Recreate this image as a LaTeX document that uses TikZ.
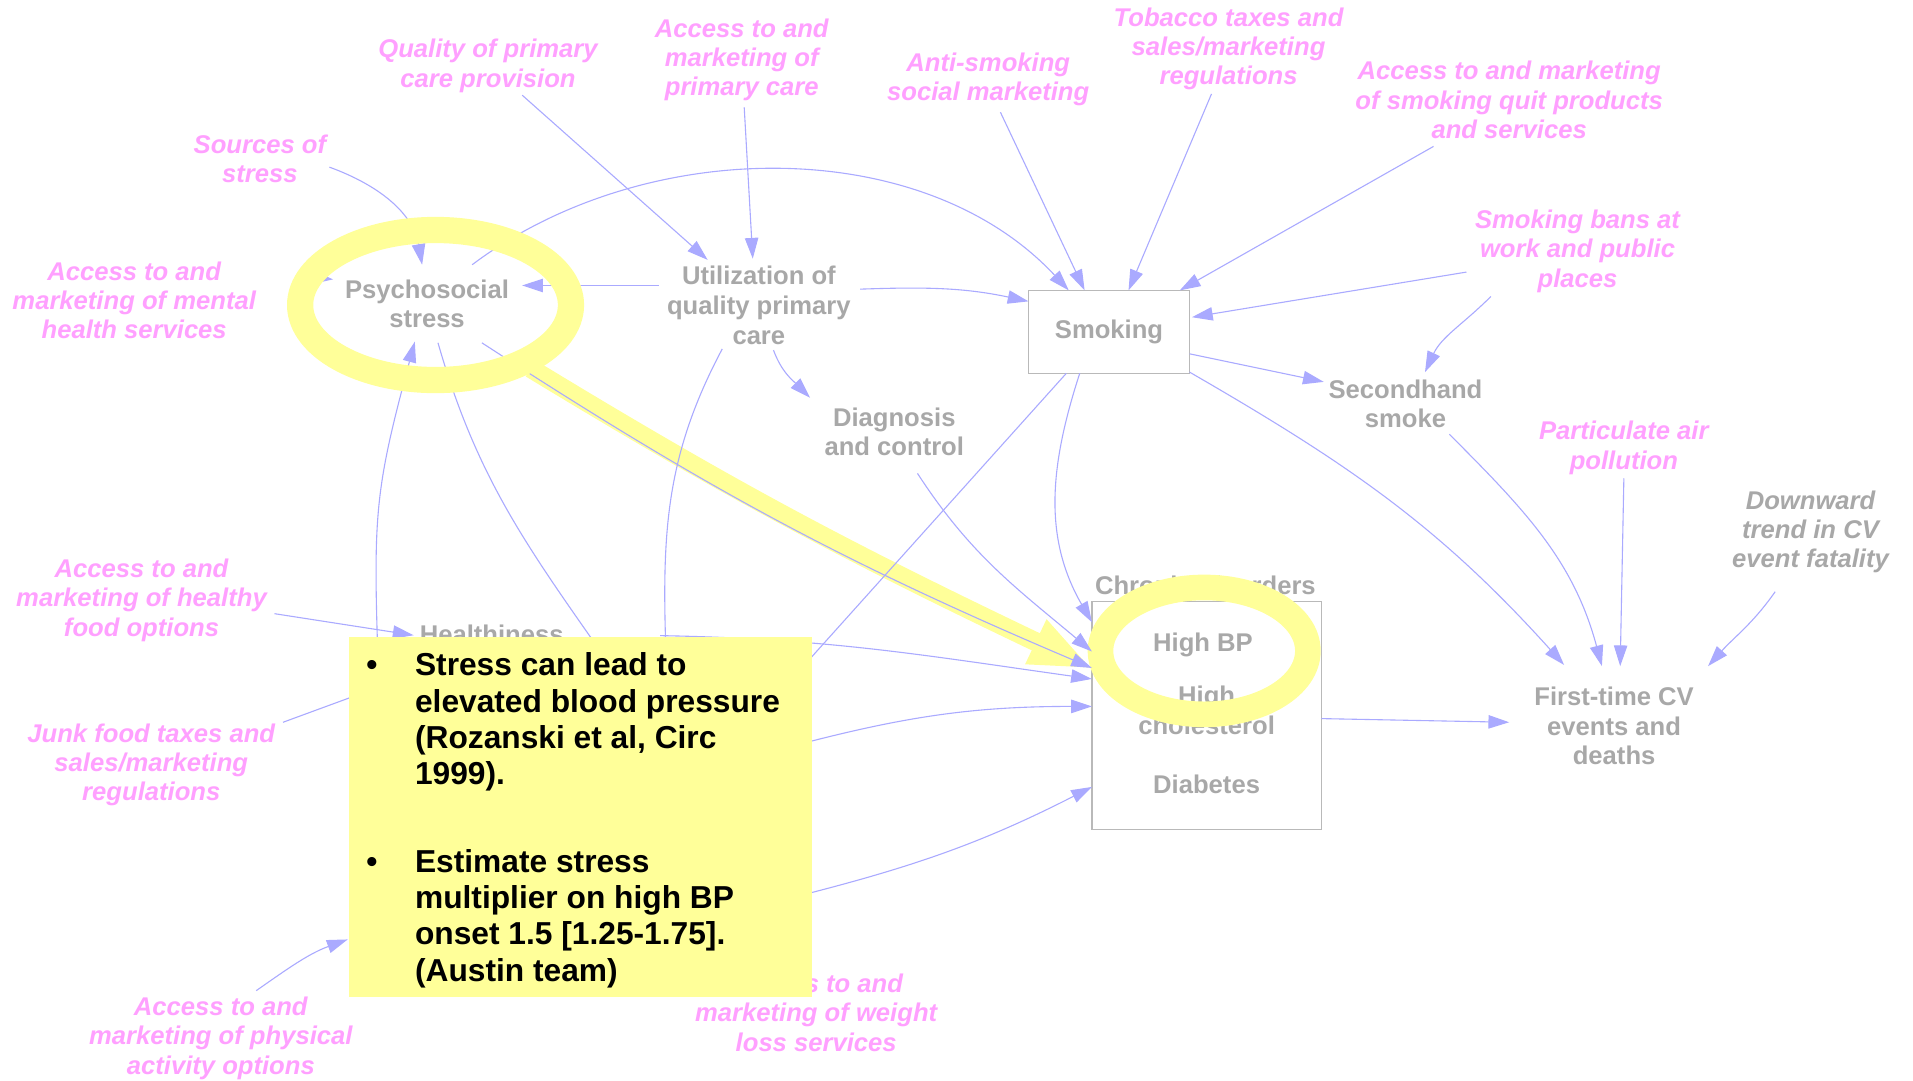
\documentclass[tikz,border=0pt]{standalone}
\usepackage{fontspec}
\setmainfont{Liberation Sans}
\usetikzlibrary{arrows.meta}
\definecolor{pinktext}{RGB}{255,160,255}
\definecolor{gtext}{RGB}{168,168,168}
\definecolor{linkblue}{RGB}{170,170,255}
\definecolor{hiyellow}{RGB}{255,255,153}
\definecolor{boxgray}{RGB}{185,185,185}
\begin{document}
\begin{tikzpicture}[x=1pt,y=-1pt,
  stockvar/.style={font=\fontsize{21}{24.5}\selectfont\bfseries, text=gtext, align=center, inner sep=0pt},
  exo/.style={font=\fontsize{21}{24}\selectfont\bfseries\itshape, text=pinktext, align=center, inner sep=0pt},
  cause/.style={draw=linkblue, line width=0.9pt, -{Triangle[length=17pt,width=11pt]}},
  cline/.style={draw=linkblue, line width=0.9pt},
  ring/.style={draw=hiyellow, line width=21pt},
  framebox/.style={draw=boxgray, line width=1pt, inner sep=0pt},
]
\fill[white] (0,0) rectangle (1568,886);
\path[use as bounding box] (0,0) rectangle (1568,886);

% ---------- exogenous inputs ----------
\node[exo] (sources) at (213,130) {Sources of\\stress};
\node[exo] (qual)    at (400,54)  {Quality of primary\\care provision};
\node[exo] (accpc)   at (608,49)  {Access to and\\marketing of\\primary care};
\node[exo] (anti)    at (810,65)  {Anti-smoking\\social marketing};
\node[exo] (tobacco) at (1007,40) {Tobacco taxes and\\sales/marketing\\regulations};
\node[exo] (quit)    at (1237,82) {Access to and marketing\\of smoking quit products\\and services};
\node[exo] (bans)    at (1293,206) {Smoking bans at\\work and public\\places};
\node[exo] (partic)  at (1331,367) {Particulate air\\pollution};
\node[exo, text=gtext] (down) at (1484,436) {Downward\\trend in CV\\event fatality};
\node[exo] (mental)  at (110,246) {Access to and\\marketing of mental\\health services};
\node[exo] (food)    at (116,492) {Access to and\\marketing of healthy\\food options};
\node[exo] (junk)    at (124,627) {Junk food taxes and\\sales/marketing\\regulations};
\node[exo] (phys)    at (181,851) {Access to and\\marketing of physical\\activity options};
\node[exo] (weight)  at (669,830) {Access to and\\marketing of weight\\loss services};

% ---------- model variables ----------
\node[stockvar] (psy)    at (350,249) {Psychosocial\\stress};
\node[stockvar] (util)   at (622,250) {Utilization of\\quality primary\\care};
\node[stockvar, framebox, minimum width=132pt, minimum height=68pt] (smoking) at (909,272) {\raisebox{-2pt}{Smoking}};
\node[stockvar] (second) at (1152,331) {Secondhand\\smoke};
\node[stockvar] (diag)   at (733,354) {Diagnosis\\and control};
\node[stockvar] (firstcv) at (1323,595) {First-time CV\\events and\\deaths};
\node[stockvar] (health) at (403,519.7) {Healthiness};

\node[framebox, minimum width=188pt, minimum height=187pt] (chronic) at (989,586.5) {};
\node[stockvar] (chrtitle) at (988,480) {Chronic disorders};
\node[stockvar] (highbp)   at (986,529) {High BP};
\node[stockvar] (chol)     at (989,582) {High\\cholesterol};
\node[stockvar] (diab)     at (989,643) {Diabetes};

% ends of links that run under the note
\coordinate (hidS) at (610,600);
\coordinate (hidP) at (500,545);
\coordinate (hidH) at (310,545);
\coordinate (hidU) at (546,540);
\coordinate (topL) at (541,521);
\coordinate (hidJ) at (330,556);
\coordinate (hidF) at (285,770);
\coordinate (hidC1) at (640,614);
\coordinate (hidC2) at (640,738);

% ---------- highlighted stress -> high BP path ----------
\draw[hiyellow, line width=15.5pt] (435,302) to[out=-31.3, in=154.5] (851,527);
\fill[hiyellow] (893,547) -- (840.2,544.5) -- (857.8,507.5) -- cycle;
\draw[ring] (987,533.5) ellipse [x radius=85, y radius=52];

% ---------- causal links ----------
\draw[cause] ([shift={(57,7)}]sources.center) to[out=-20, in=100] ([shift={(-4,-32)}]psy.center);
\draw[cause] ([shift={(133,-20)}]mental.center) -- ([shift={(-77,-20)}]psy.center);
\draw[cause] ([shift={(28,24)}]qual.center) -- ([shift={(-42,-37)}]util.center);
\draw[cause] ([shift={(2,39)}]accpc.center) -- ([shift={(-5,-38)}]util.center);
\draw[cause] ([shift={(-82,-16)}]util.center) -- ([shift={(78,-15)}]psy.center);
\draw[cause] ([shift={(37,-32)}]psy.center) to[out=37, in=133, looseness=0.92] ([shift={(-33,-34)}]smoking.center);
\draw[cause] ([shift={(83,-13)}]util.center) to[out=2, in=168] ([shift={(-66,-25)}]smoking.center);
\draw[cause] ([shift={(10,27)}]anti.center) -- ([shift={(-20,-34)}]smoking.center);
\draw[cause] ([shift={(-14,37)}]tobacco.center) -- ([shift={(16,-34)}]smoking.center);
\draw[cause] ([shift={(-62,38)}]quit.center) -- ([shift={(58,-34)}]smoking.center);
\draw[cause] ([shift={(-91,17)}]bans.center) -- ([shift={(68,-12)}]smoking.center);
\draw[cause] ([shift={(-71,37)}]bans.center) to[out=-135, in=65] ([shift={(16,-26)}]second.center);
\draw[cause] ([shift={(66,18)}]smoking.center) -- ([shift={(-67,-18)}]second.center);
\draw[cause] ([shift={(66,33)}]smoking.center) to[out=-30, in=132] ([shift={(-41,-50)}]firstcv.center);
\draw[cause] ([shift={(36,25)}]second.center) to[out=-45, in=105] ([shift={(-10,-49)}]firstcv.center);
\draw[cause] ([shift={(0,25)}]partic.center) -- ([shift={(5,-49)}]firstcv.center);
\draw[cause] ([shift={(-29,49)}]down.center) to[out=-125, in=48] ([shift={(77,-49)}]firstcv.center);
\draw[cause] ([shift={(94,2.5)}]chronic.center) -- ([shift={(-86,-3)}]firstcv.center);
\draw[cause] ([shift={(12,37)}]util.center) to[out=-70, in=135] ([shift={(-69,-28)}]diag.center);
\draw[cause] ([shift={(19,34)}]diag.center) to[out=-57, in=140] ([shift={(-94,-52.5)}]chronic.center);
\draw[cause] ([shift={(-24,34)}]smoking.center) to[out=-108, in=120] ([shift={(-94,-76.5)}]chronic.center);
\draw[cline] ([shift={(-35,34)}]smoking.center) -- (hidS);
\draw[cline] ([shift={(9,32)}]psy.center) to[out=-74, in=125] (hidP);
\draw[cause] (hidH) to[out=92, in=-105, looseness=1.2] ([shift={(-10,31)}]psy.center);
\draw[cline] ([shift={(-30,36)}]util.center) to[out=-118, in=92] (hidU);
\draw[cause] (topL) to[out=-1, in=172] ([shift={(-94,-30)}]chronic.center);
\draw[cause] ([shift={(109,11)}]food.center) -- ([shift={(-64,1)}]health.center);
\draw[cline] ([shift={(108,-35)}]junk.center) -- (hidJ);
\draw[cause] ([shift={(29,-39)}]phys.center) to[out=35, in=-160] (hidF);
\draw[cause] (hidC1) to[out=15, in=180] ([shift={(-94,-7.5)}]chronic.center);
\draw[cause] (hidC2) to[out=14, in=207] ([shift={(-94,58.5)}]chronic.center);
\draw[cause] ([shift={(45,32)}]psy.center) to[out=-33, in=157] ([shift={(-94,-39)}]chronic.center);

% ---------- ring round psychosocial stress ----------
\draw[ring, line width=21.5pt] (357,250) ellipse [x radius=111, y radius=61.5];

% ---------- note ----------
\node[fill=hiyellow, minimum width=379pt, minimum height=295pt, anchor=north west, inner sep=0pt] (note) at (286,522) {};
\node[anchor=base west, inner sep=0pt, font=\fontsize{26}{29.7}\selectfont\bfseries] (notetext) at (300,554)
  {\begin{tabular}[t]{@{}p{40pt}@{}l@{}}
   \textbullet & Stress can lead to\\
               & elevated blood pressure\\
               & (Rozanski et al, Circ\\
               & 1999).\\[42.3pt]
   \textbullet & Estimate stress\\
               & multiplier on high BP\\
               & onset 1.5 [1.25-1.75].\\
               & (Austin team)
   \end{tabular}};
\end{tikzpicture}
\end{document}
